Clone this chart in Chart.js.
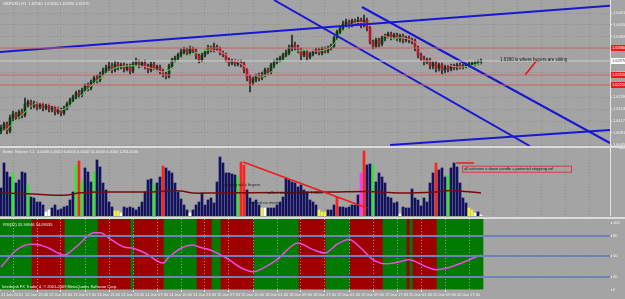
<!DOCTYPE html>
<html>
<head>
<meta charset="utf-8">
<script src="https://cdn.jsdelivr.net/npm/chart.js"></script>
<style>
  html, body { margin: 0; padding: 0; }
  body { width: 625px; height: 299px; background: #a4a4a4; position: relative; overflow: hidden; }
  .pane { position: absolute; left: 0; width: 625px; }
  .sep { position: absolute; left: 0; width: 625px; height: 2px; background: #dcdcdc; }
</style>
</head>
<body>
<div class="pane" style="top:0;height:146px"><canvas id="price"></canvas></div>
<div class="sep" style="top:146px"></div>
<div class="pane" style="top:148px;height:68px"><canvas id="volume"></canvas></div>
<div class="sep" style="top:217px"></div>
<div class="pane" style="top:219px;height:80px"><canvas id="rsi"></canvas></div>
<script>
// ---------------- data (GBPUSD H1, one entry per bar) ----------------
const symbol = "GBPUSD,H1";

const opens = [
  1.6087,1.6096,1.6108,1.6087,1.6126,1.6138,1.6129,1.6144,1.6135,1.6168,
  1.6174,1.6162,1.6168,1.6159,1.6165,1.6156,1.6162,1.6153,1.6156,1.6144,
  1.6150,1.6141,1.6156,1.6168,1.6180,1.6189,1.6201,1.6195,1.6210,1.6222,
  1.6216,1.6234,1.6246,1.6240,1.6258,1.6267,1.6276,1.6282,1.6270,1.6288,
  1.6279,1.6285,1.6273,1.6282,1.6267,1.6288,1.6294,1.6285,1.6291,1.6282,
  1.6270,1.6288,1.6276,1.6279,1.6267,1.6258,1.6252,1.6282,1.6300,1.6306,
  1.6315,1.6324,1.6330,1.6321,1.6333,1.6327,1.6312,1.6300,1.6315,1.6324,
  1.6336,1.6330,1.6339,1.6333,1.6321,1.6315,1.6300,1.6291,1.6297,1.6288,
  1.6294,1.6288,1.6270,1.6246,1.6234,1.6243,1.6252,1.6246,1.6258,1.6270,
  1.6264,1.6285,1.6294,1.6300,1.6306,1.6315,1.6321,1.6336,1.6345,1.6339,
  1.6330,1.6315,1.6324,1.6309,1.6318,1.6324,1.6330,1.6321,1.6333,1.6327,
  1.6336,1.6342,1.6366,1.6384,1.6396,1.6408,1.6414,1.6405,1.6417,1.6411,
  1.6420,1.6405,1.6420,1.6396,1.6354,1.6342,1.6360,1.6348,1.6366,1.6372,
  1.6378,1.6369,1.6375,1.6363,1.6372,1.6360,1.6366,1.6360,1.6357,1.6336,
  1.6315,1.6306,1.6294,1.6300,1.6282,1.6291,1.6276,1.6285,1.6270,1.6279,
  1.6273,1.6282,1.6276,1.6285,1.6279,1.6282,1.6285,1.6288,1.6288,1.6291,
  1.6294
];
const highs = [
  1.6105,1.6114,1.6114,1.6135,1.6147,1.6144,1.6150,1.6153,1.6186,1.6180,
  1.6180,1.6177,1.6174,1.6171,1.6171,1.6168,1.6168,1.6162,1.6162,1.6159,
  1.6156,1.6162,1.6174,1.6186,1.6195,1.6207,1.6210,1.6216,1.6228,1.6231,
  1.6240,1.6252,1.6255,1.6264,1.6276,1.6285,1.6294,1.6291,1.6297,1.6294,
  1.6291,1.6291,1.6288,1.6288,1.6297,1.6306,1.6300,1.6297,1.6300,1.6288,
  1.6294,1.6294,1.6285,1.6285,1.6273,1.6264,1.6288,1.6306,1.6312,1.6321,
  1.6333,1.6339,1.6336,1.6342,1.6339,1.6333,1.6318,1.6321,1.6330,1.6345,
  1.6342,1.6351,1.6345,1.6339,1.6327,1.6321,1.6306,1.6303,1.6303,1.6300,
  1.6300,1.6294,1.6276,1.6255,1.6249,1.6258,1.6261,1.6264,1.6276,1.6276,
  1.6291,1.6300,1.6306,1.6312,1.6321,1.6330,1.6345,1.6375,1.6354,1.6345,
  1.6336,1.6330,1.6330,1.6324,1.6330,1.6336,1.6336,1.6339,1.6339,1.6342,
  1.6348,1.6372,1.6390,1.6402,1.6417,1.6423,1.6420,1.6423,1.6423,1.6429,
  1.6426,1.6435,1.6426,1.6402,1.6360,1.6366,1.6366,1.6372,1.6378,1.6384,
  1.6384,1.6381,1.6381,1.6378,1.6378,1.6372,1.6372,1.6366,1.6363,1.6342,
  1.6321,1.6312,1.6306,1.6306,1.6297,1.6297,1.6291,1.6291,1.6285,1.6285,
  1.6288,1.6288,1.6291,1.6291,1.6288,1.6291,1.6294,1.6294,1.6297,1.6300,
  1.6303
];
const lows = [
  1.6078,1.6090,1.6078,1.6081,1.6117,1.6120,1.6123,1.6126,1.6129,1.6159,
  1.6153,1.6156,1.6150,1.6153,1.6147,1.6150,1.6144,1.6144,1.6135,1.6138,
  1.6132,1.6135,1.6150,1.6162,1.6174,1.6183,1.6186,1.6189,1.6204,1.6207,
  1.6210,1.6228,1.6231,1.6234,1.6252,1.6261,1.6267,1.6261,1.6264,1.6270,
  1.6273,1.6264,1.6267,1.6258,1.6261,1.6282,1.6276,1.6279,1.6273,1.6261,
  1.6264,1.6270,1.6267,1.6258,1.6249,1.6243,1.6246,1.6276,1.6294,1.6300,
  1.6309,1.6318,1.6315,1.6315,1.6321,1.6303,1.6291,1.6294,1.6309,1.6318,
  1.6324,1.6324,1.6327,1.6315,1.6309,1.6294,1.6282,1.6285,1.6282,1.6282,
  1.6279,1.6261,1.6237,1.6204,1.6225,1.6234,1.6237,1.6240,1.6249,1.6255,
  1.6258,1.6276,1.6288,1.6294,1.6300,1.6309,1.6315,1.6327,1.6330,1.6321,
  1.6300,1.6309,1.6300,1.6303,1.6312,1.6318,1.6315,1.6315,1.6321,1.6321,
  1.6330,1.6336,1.6360,1.6378,1.6390,1.6399,1.6396,1.6399,1.6405,1.6405,
  1.6396,1.6399,1.6387,1.6348,1.6333,1.6336,1.6339,1.6342,1.6357,1.6366,
  1.6360,1.6363,1.6357,1.6354,1.6351,1.6354,1.6351,1.6348,1.6327,1.6306,
  1.6297,1.6285,1.6288,1.6273,1.6273,1.6264,1.6267,1.6258,1.6261,1.6264,
  1.6267,1.6270,1.6270,1.6273,1.6273,1.6276,1.6279,1.6282,1.6282,1.6285,
  1.6288
];
const closes = [
  1.6096,1.6108,1.6087,1.6126,1.6138,1.6129,1.6144,1.6135,1.6168,1.6174,
  1.6162,1.6168,1.6159,1.6165,1.6156,1.6162,1.6153,1.6156,1.6144,1.6150,
  1.6141,1.6156,1.6168,1.6180,1.6189,1.6201,1.6195,1.6210,1.6222,1.6216,
  1.6234,1.6246,1.6240,1.6258,1.6267,1.6276,1.6282,1.6270,1.6288,1.6279,
  1.6285,1.6273,1.6282,1.6267,1.6288,1.6294,1.6285,1.6291,1.6282,1.6270,
  1.6288,1.6276,1.6279,1.6267,1.6258,1.6252,1.6282,1.6300,1.6306,1.6315,
  1.6324,1.6330,1.6321,1.6333,1.6327,1.6312,1.6300,1.6315,1.6324,1.6336,
  1.6330,1.6339,1.6333,1.6321,1.6315,1.6300,1.6291,1.6297,1.6288,1.6294,
  1.6288,1.6270,1.6246,1.6234,1.6243,1.6252,1.6246,1.6258,1.6270,1.6264,
  1.6285,1.6294,1.6300,1.6306,1.6315,1.6321,1.6336,1.6345,1.6339,1.6330,
  1.6315,1.6324,1.6309,1.6318,1.6324,1.6330,1.6321,1.6333,1.6327,1.6336,
  1.6342,1.6366,1.6384,1.6396,1.6408,1.6414,1.6405,1.6417,1.6411,1.6420,
  1.6405,1.6420,1.6396,1.6354,1.6342,1.6360,1.6348,1.6366,1.6372,1.6378,
  1.6369,1.6375,1.6363,1.6372,1.6360,1.6366,1.6360,1.6357,1.6336,1.6315,
  1.6306,1.6294,1.6300,1.6282,1.6291,1.6276,1.6285,1.6270,1.6279,1.6273,
  1.6282,1.6276,1.6285,1.6279,1.6282,1.6285,1.6288,1.6288,1.6291,1.6294,
  1.6297
];

// thin trend average drawn over the candles (green while rising, pink while falling)
const maBars   = [0, 8, 12, 18, 20, 24, 30, 34, 38, 42, 46, 50, 54, 58, 62, 66, 70, 74, 78, 82, 86, 90, 94, 98, 102, 106, 110, 114, 118, 122, 126, 130, 134, 138, 142, 146, 150, 154, 158, 160];
const maValues = [1.6075, 1.6144, 1.6171, 1.6162, 1.6150, 1.6171, 1.6222, 1.6252, 1.6276, 1.6282,
  1.6282, 1.6276, 1.6264, 1.6282, 1.6312, 1.6324, 1.6330, 1.6321, 1.6300, 1.6276,
  1.6249, 1.6264, 1.6294, 1.6324, 1.6330, 1.6327, 1.6339, 1.6384, 1.6411, 1.6408,
  1.6381, 1.6366, 1.6366, 1.6354, 1.6324, 1.6300, 1.6282, 1.6279, 1.6285, 1.6291];

// Better Volume bars and their colour class (n navy, g green, r red, w white, y yellow, m magenta)
const volumes = [
  700,1325,1100,975,1075,825,900,1100,1075,775,
  475,450,350,350,275,100,150,200,275,150,
  175,225,250,400,600,1275,1375,850,1200,1100,
  850,1100,1400,1225,825,650,350,225,125,125,
  75,225,200,225,200,150,225,350,600,900,
  925,800,825,975,1250,1200,1125,1075,825,600,
  425,275,150,75,150,275,350,575,275,400,
  450,325,850,1475,1325,1075,1075,1050,1025,975,
  1350,1275,650,450,350,400,275,200,200,200,
  200,200,275,350,475,950,900,850,825,725,
  775,650,575,400,350,275,150,100,100,150,
  150,275,475,225,225,200,225,275,275,525,
  1075,1625,1275,1300,1275,850,1075,975,825,475,
  450,325,350,50,225,200,200,675,450,400,
  250,450,350,825,1075,1325,1150,1200,975,1025,
  1200,1325,1225,825,450,325,200,150,75,100,
  25
];
const volKinds = (
  "nnnngnnnng" + "nnnnnwwnnn" + "nnnnngrgnn" + "ngnnnnnnyy" +
  "wnnnnnnnnn" + "ngnnrnnnnn" + "nnnwnnnnnn" + "nnnnnnnnng" +
  "rrnnnnnywn" + "nnnnnnnnnn" + "nnnnnnyyyn" + "nnrnnnnnnn" +
  "mrnngnnnnn" + "nnnwnnnnnn" + "nnnnnrnnng" + "nnnnnnyywn" + "w"
).split("");
const volMaBars   = [0, 11, 16, 22, 26, 33, 49, 56, 60, 64, 70, 95, 111, 122, 133, 145, 150, 160];
const volMaValues = [575, 550, 525, 525, 575, 600, 600, 625, 625, 575, 575, 588, 600, 613, 575, 600, 638, 575];

// RSI line (read at turning points) and the rising / falling background zones
const rsiBars   = [0, 5, 10, 13, 16, 21, 25, 31, 33, 37, 41, 44, 48, 54, 56, 60, 64, 66, 70, 76, 80, 84, 88, 92, 99, 104, 108, 112, 116, 120, 124, 128, 133, 136, 142, 145, 149, 160];
const rsiValues = [34, 59, 68, 67, 62, 52, 64, 85, 85, 74, 64, 62, 55, 40, 49, 62, 67, 64, 59, 45, 33, 27, 34, 45, 70, 60, 55, 68, 75, 62, 45, 39, 42, 45, 34, 30, 33, 52];
const rsiZones = [
  [0, 10, "g"], [11, 21, "r"], [22, 32, "g"], [33, 43, "r"], [44, 44, "g"], [45, 54, "r"],
  [55, 65, "g"], [66, 70, "r"], [71, 73, "g"], [74, 84, "r"], [85, 99, "g"], [100, 108, "r"],
  [109, 116, "g"], [117, 127, "r"], [128, 135, "g"], [136, 136, "r"], [137, 137, "g"],
  [138, 145, "r"], [146, 160, "g"]
];
const rsiLevels = [20, 50, 80];

// axis labels
const gridBars = [0,8,16,24,32,40,48,56,64,72,80,88,96,104,112,120,128,136,144,152,160,168,176,184,192,200];
const timeLabels = ["11 Jan 2010","12 Jan 15:00","12 Jan 23:00","13 Jan 07:00","13 Jan 15:00",
  "13 Jan 23:00","14 Jan 07:00","14 Jan 15:00","14 Jan 23:00","15 Jan 07:00","15 Jan 15:00",
  "18 Jan 01:00","18 Jan 09:00","18 Jan 17:00","19 Jan 01:00","19 Jan 09:00","19 Jan 17:00",
  "20 Jan 01:00","20 Jan 09:00","20 Jan 17:00"];
const priceTicks = [1.6441,1.6405,1.6369,1.6333,1.6297,1.6261,1.6225,1.6189,1.6153,1.6117,1.6081,1.6045];
const rsiTicks = [0, 20, 50, 80, 100];
const volTicks = [1694.46];

// drawn objects: [bar, price] end points
const levelPrices = [1.6336, 1.6255, 1.6225];
const trendLines = [
  [[-0.33, 1.6324], [203, 1.6463]],
  [[91, 1.6480], [176.3, 1.6042]],
  [[120.3, 1.6459], [203, 1.6051]],
  [[129.7, 1.6045], [203, 1.6090]]
];
const arrowLine = [[174.7, 1.6255], [178.7, 1.6300]];
const volTriangle = [[80.7, 1350], [122, 200]];
const volMarkLine = [[151.7, 1325], [157.7, 1325]];

// ---------------- chart set-up ----------------
const X_MIN = -1 / 3, X_MAX = 203;
const FONT = '"Liberation Sans", Arial, sans-serif';
const LABEL = "#f4f4f4";
const GRID = "#8e8e8e";
const UP = "#0f3a12", DOWN = "#b01a2a", WICK = "#262626";
const VOL_COLORS = { n: "#12125e", g: "#33e633", r: "#ff2020", w: "#ffffff", y: "#f2f23a", m: "#ff36ff" };
const ZONE_COLORS = { g: "#007a00", r: "#9e0000" };

Chart.defaults.font.family = FONT;
Chart.defaults.font.size = 4;
Chart.defaults.animation = false;
Chart.defaults.plugins.legend.display = false;
Chart.defaults.plugins.tooltip.enabled = false;

function timeAxis(showLabels, gridColor, gridZ) {
  return {
    type: "linear", min: X_MIN, max: X_MAX, offset: false,
    afterBuildTicks: s => { s.ticks = gridBars.map(v => ({ value: v })); },
    afterFit: s => { s.height = showLabels ? 9 : 0; s.paddingLeft = 0; s.paddingRight = 0; },
    grid: { color: gridColor || GRID, lineWidth: 1, z: gridZ || -1,
      drawTicks: showLabels, tickLength: 2,
      tickColor: ctx => ctx.index < timeLabels.length ? "#e8e8e8" : "rgba(0,0,0,0)" },
    border: { display: false, dash: [1, 2] },
    ticks: {
      display: showLabels, align: "start", padding: 0, color: LABEL, maxRotation: 0, autoSkip: false,
      callback: (v, i) => timeLabels[i] || ""
    }
  };
}

function sideAxis(min, max, ticks, fmt, extra) {
  return Object.assign({
    type: "linear", position: "right", min: min, max: max,
    afterBuildTicks: s => { s.ticks = ticks.map(v => ({ value: v })); },
    afterFit: s => { s.width = 15; s.paddingTop = 0; s.paddingBottom = 0; },
    grid: { display: false },
    border: { display: true, color: "#e6e6e6", width: 1 },
    ticks: { color: LABEL, padding: 1, callback: fmt }
  }, extra || {});
}

const seg = (pts, color, width) => ({
  type: "line", order: -1,
  data: pts.map(p => ({ x: p[0], y: p[1] })),
  borderColor: color, borderWidth: width, pointRadius: 0, fill: false
});

function textPlugin(id, draw) {
  return { id: id, afterDraw(chart) { const c = chart.ctx; c.save(); draw(chart, c); c.restore(); } };
}

// ---------------- price window ----------------
const bodyData = closes.map((c, i) => ({ x: i, y: [opens[i], c] }));
const wickData = closes.map((c, i) => ({ x: i, y: [lows[i], highs[i]] }));
const bodyColors = closes.map((c, i) => c >= opens[i] ? UP : DOWN);
const lastBar = closes.length - 1;

new Chart(document.getElementById("price"), {
  type: "bar",
  data: {
    datasets: [
      ...levelPrices.map(p => seg([[X_MIN, p], [X_MAX, p]], "#d66060", 1)),
      seg([[X_MIN, closes[lastBar]], [X_MAX, closes[lastBar]]], "#d2d2d2", 1),
      ...trendLines.map(l => seg(l, "#1818d2", 2)),
      seg(arrowLine, "#e01414", 1.5),
      { type: "line", order: 0, data: maBars.map((b, i) => ({ x: b, y: maValues[i] })),
        borderWidth: 1, pointRadius: 0, tension: 0.35,
        segment: { borderColor: s => s.p1.parsed.y >= s.p0.parsed.y ? "#62d262" : "#e4808e" } },
      { data: bodyData, backgroundColor: bodyColors, barThickness: 2, grouped: false, minBarLength: 1, order: 1 },
      { data: wickData, backgroundColor: WICK, barThickness: 1, grouped: false, order: 2 }
    ]
  },
  options: {
    responsive: true, maintainAspectRatio: false,
    layout: { padding: 0 },
    scales: {
      x: timeAxis(false),
      y: sideAxis(1.6042, 1.6480, priceTicks, v => v.toFixed(5), {
        grid: { display: true, color: GRID, drawTicks: true, tickLength: 2, tickColor: "#e8e8e8" },
        border: { display: true, color: "#e6e6e6", width: 1, dash: [1, 2] }
      })
    }
  },
  plugins: [textPlugin("priceText", (chart, c) => {
    const y = chart.scales.y, x = chart.scales.x, area = chart.chartArea;
    c.font = "4px " + FONT;
    c.textBaseline = "middle";
    const tag = (p, bg, fg) => {
      const py = y.getPixelForValue(p);
      c.fillStyle = bg; c.fillRect(area.right + 1, py - 3, 14, 6);
      c.fillStyle = fg; c.fillText(p.toFixed(5), area.right + 2, py);
    };
    levelPrices.forEach(p => tag(p, "#f01818", "#ffffff"));
    tag(closes[lastBar], "#ffffff", "#404040");
    c.fillStyle = "#f2f2f2";
    c.fillText(symbol + "  " + [opens, highs, lows, closes].map(a => a[lastBar].toFixed(5)).join(" "), 3, 4);
    c.fillStyle = "#1a1a1a";
    c.font = "4.5px " + FONT;
    c.fillText("1.6360 is where buyers are sitting", x.getPixelForValue(166.3), y.getPixelForValue(1.6300));
  })]
});

// ---------------- volume window ----------------
new Chart(document.getElementById("volume"), {
  type: "bar",
  data: {
    datasets: [
      seg(volTriangle, "#ee1c1c", 1.5),
      seg(volMarkLine, "#ee1c1c", 1.5),
      { type: "line", data: volMaBars.map((b, i) => ({ x: b, y: volMaValues[i] })),
        borderColor: "#7a0a0a", borderWidth: 1.5, pointRadius: 0, tension: 0.3, order: 0 },
      { data: volumes.map((v, i) => ({ x: i, y: v })), backgroundColor: volKinds.map(k => VOL_COLORS[k]),
        barThickness: 2, grouped: false, order: 1 }
    ]
  },
  options: {
    responsive: true, maintainAspectRatio: false,
    scales: {
      x: timeAxis(false),
      y: sideAxis(0, 1700, volTicks, v => v.toFixed(2))
    }
  },
  plugins: [textPlugin("volText", (chart, c) => {
    const x = chart.scales.x, y = chart.scales.y;
    c.font = "4px " + FONT;
    c.textBaseline = "middle";
    c.fillStyle = "#f2f2f2";
    c.fillText("Better Volume 1.1  0.0000 0.0000 0.0000 0.0000 51.0000 0.0000 1264.0000", 3, 4);
    c.fillStyle = "#1a1a1a";
    c.fillText("stopping vol = buyers", x.getPixelForValue(73.7), y.getPixelForValue(775));
    c.fillText("sellers are absorbing @ 1.6300", x.getPixelForValue(88.7), y.getPixelForValue(575));
    c.fillText("low vol no more", x.getPixelForValue(83), y.getPixelForValue(325));
    const bx = x.getPixelForValue(153.7), by = y.getPixelForValue(1257);
    const bw = x.getPixelForValue(190) - bx, bh = y.getPixelForValue(1107) - by;
    c.strokeStyle = "#d04040"; c.lineWidth = 1;
    c.strokeRect(bx + 0.5, by + 0.5, bw, bh);
    c.fillText("all volumes n down candle = potential stopping vol", bx + 2, by + bh / 2 + 0.5);
  })]
});

// ---------------- RSI window ----------------
const zoneColors = closes.map((c, i) => {
  const z = rsiZones.find(r => i >= r[0] && i <= r[1]);
  return ZONE_COLORS[z ? z[2] : "g"];
});

new Chart(document.getElementById("rsi"), {
  type: "bar",
  data: {
    datasets: [
      { type: "line", data: rsiBars.map((b, i) => ({ x: b, y: rsiValues[i] })),
        borderColor: "#e64ee6", borderWidth: 1.5, pointRadius: 0, cubicInterpolationMode: "monotone", order: 0 },
      { data: closes.map((c, i) => ({ x: i, y: [0, 105.5] })), backgroundColor: zoneColors,
        barThickness: 4, grouped: false, order: 1 }
    ]
  },
  options: {
    responsive: true, maintainAspectRatio: false,
    scales: {
      x: timeAxis(true, "rgba(175,175,175,0.8)", 1),
      y: sideAxis(0, 105.5, rsiTicks, v => String(v), {
        grid: { display: true, z: 1, drawTicks: true, tickLength: 2, tickColor: "#e8e8e8",
          color: ctx => rsiLevels.includes(ctx.tick && ctx.tick.value) ? "#6c82ba" : "rgba(0,0,0,0)",
          lineWidth: 2 }
      })
    }
  },
  plugins: [textPlugin("rsiText", (chart, c) => {
    c.font = "4px " + FONT;
    c.textBaseline = "middle";
    c.fillStyle = "#f2f2f2";
    c.fillText("RSI(32) 55.90946 54.09535", 3, 6);
    c.fillText("Interbank FX Trader 4, \u00a9 2001-2009 MetaQuotes Software Corp.", 2, chart.chartArea.bottom - 3);
  })]
});
</script>
</body>
</html>
